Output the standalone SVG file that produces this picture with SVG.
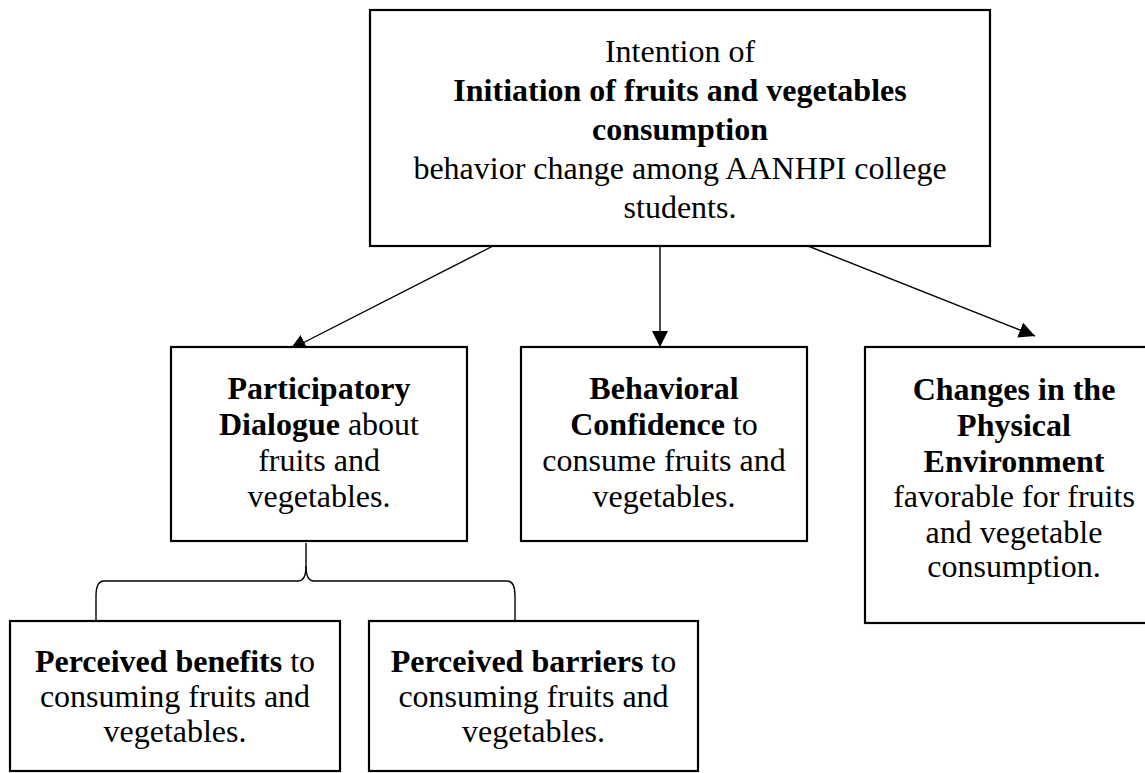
<svg xmlns="http://www.w3.org/2000/svg" width="1145" height="773" viewBox="0 0 1145 773">
<style>
.box{fill:#fff;stroke:#000;stroke-width:2.2}
.t{font-family:"Liberation Serif","Times New Roman",serif;font-size:32px;fill:#000;text-anchor:middle}
.b{font-weight:bold}
.c{stroke:#000;stroke-width:1.4;fill:none}
</style>
<defs>
<marker id="ah" markerUnits="userSpaceOnUse" markerWidth="17" markerHeight="16" refX="16" refY="8" orient="auto">
<path d="M0,0 L16,8 L0,16 z" fill="#000"/>
</marker>
</defs>
<rect width="1145" height="773" fill="#fff"/>
<g id="connectors">
<line class="c" x1="493" y1="246" x2="290" y2="349.5" marker-end="url(#ah)"/>
<line class="c" x1="660" y1="246" x2="660" y2="347" marker-end="url(#ah)"/>
<line class="c" x1="808" y1="246" x2="1035" y2="336" marker-end="url(#ah)"/>
<path class="c" d="M306,543 L306,566 Q306,581 298,581 L104,581 Q96,581 96,596 L96,621"/>
<path class="c" d="M306,566 Q306,581 314,581 L507,581 Q515,581 515,596 L515,621"/>
</g>
<g id="top">
<rect class="box" x="370" y="10" width="620" height="236"/>
<text class="t" x="680" y="62">Intention of</text>
<text class="t b" x="680" y="101">Initiation of fruits and vegetables</text>
<text class="t b" x="680" y="140">consumption</text>
<text class="t" x="680" y="179">behavior change among AANHPI college</text>
<text class="t" x="680" y="218">students.</text>
</g>
<g id="participatory">
<rect class="box" x="171" y="347" width="296" height="194"/>
<text class="t" x="319" y="399"><tspan class="b">Participatory</tspan></text>
<text class="t" x="319" y="435"><tspan class="b">Dialogue</tspan> about</text>
<text class="t" x="319" y="471">fruits and</text>
<text class="t" x="319" y="507">vegetables.</text>
</g>
<g id="behavioral">
<rect class="box" x="521" y="347" width="286" height="194"/>
<text class="t" x="664" y="399"><tspan class="b">Behavioral</tspan></text>
<text class="t" x="664" y="435"><tspan class="b">Confidence</tspan> to</text>
<text class="t" x="664" y="471">consume fruits and</text>
<text class="t" x="664" y="507">vegetables.</text>
</g>
<g id="changes">
<rect class="box" x="865" y="347" width="300" height="276"/>
<text class="t b" x="1014" y="400">Changes in the</text>
<text class="t b" x="1014" y="436">Physical</text>
<text class="t b" x="1014" y="472">Environment</text>
<text class="t" x="1014" y="507">favorable for fruits</text>
<text class="t" x="1014" y="543">and vegetable</text>
<text class="t" x="1014" y="577">consumption.</text>
</g>
<g id="benefits">
<rect class="box" x="10" y="621" width="330" height="150"/>
<text class="t" x="175" y="672"><tspan class="b">Perceived benefits</tspan> to</text>
<text class="t" x="175" y="707">consuming fruits and</text>
<text class="t" x="175" y="742">vegetables.</text>
</g>
<g id="barriers">
<rect class="box" x="369" y="621" width="329" height="150"/>
<text class="t" x="533.5" y="672"><tspan class="b">Perceived barriers</tspan> to</text>
<text class="t" x="533.5" y="707">consuming fruits and</text>
<text class="t" x="533.5" y="742">vegetables.</text>
</g>
</svg>
